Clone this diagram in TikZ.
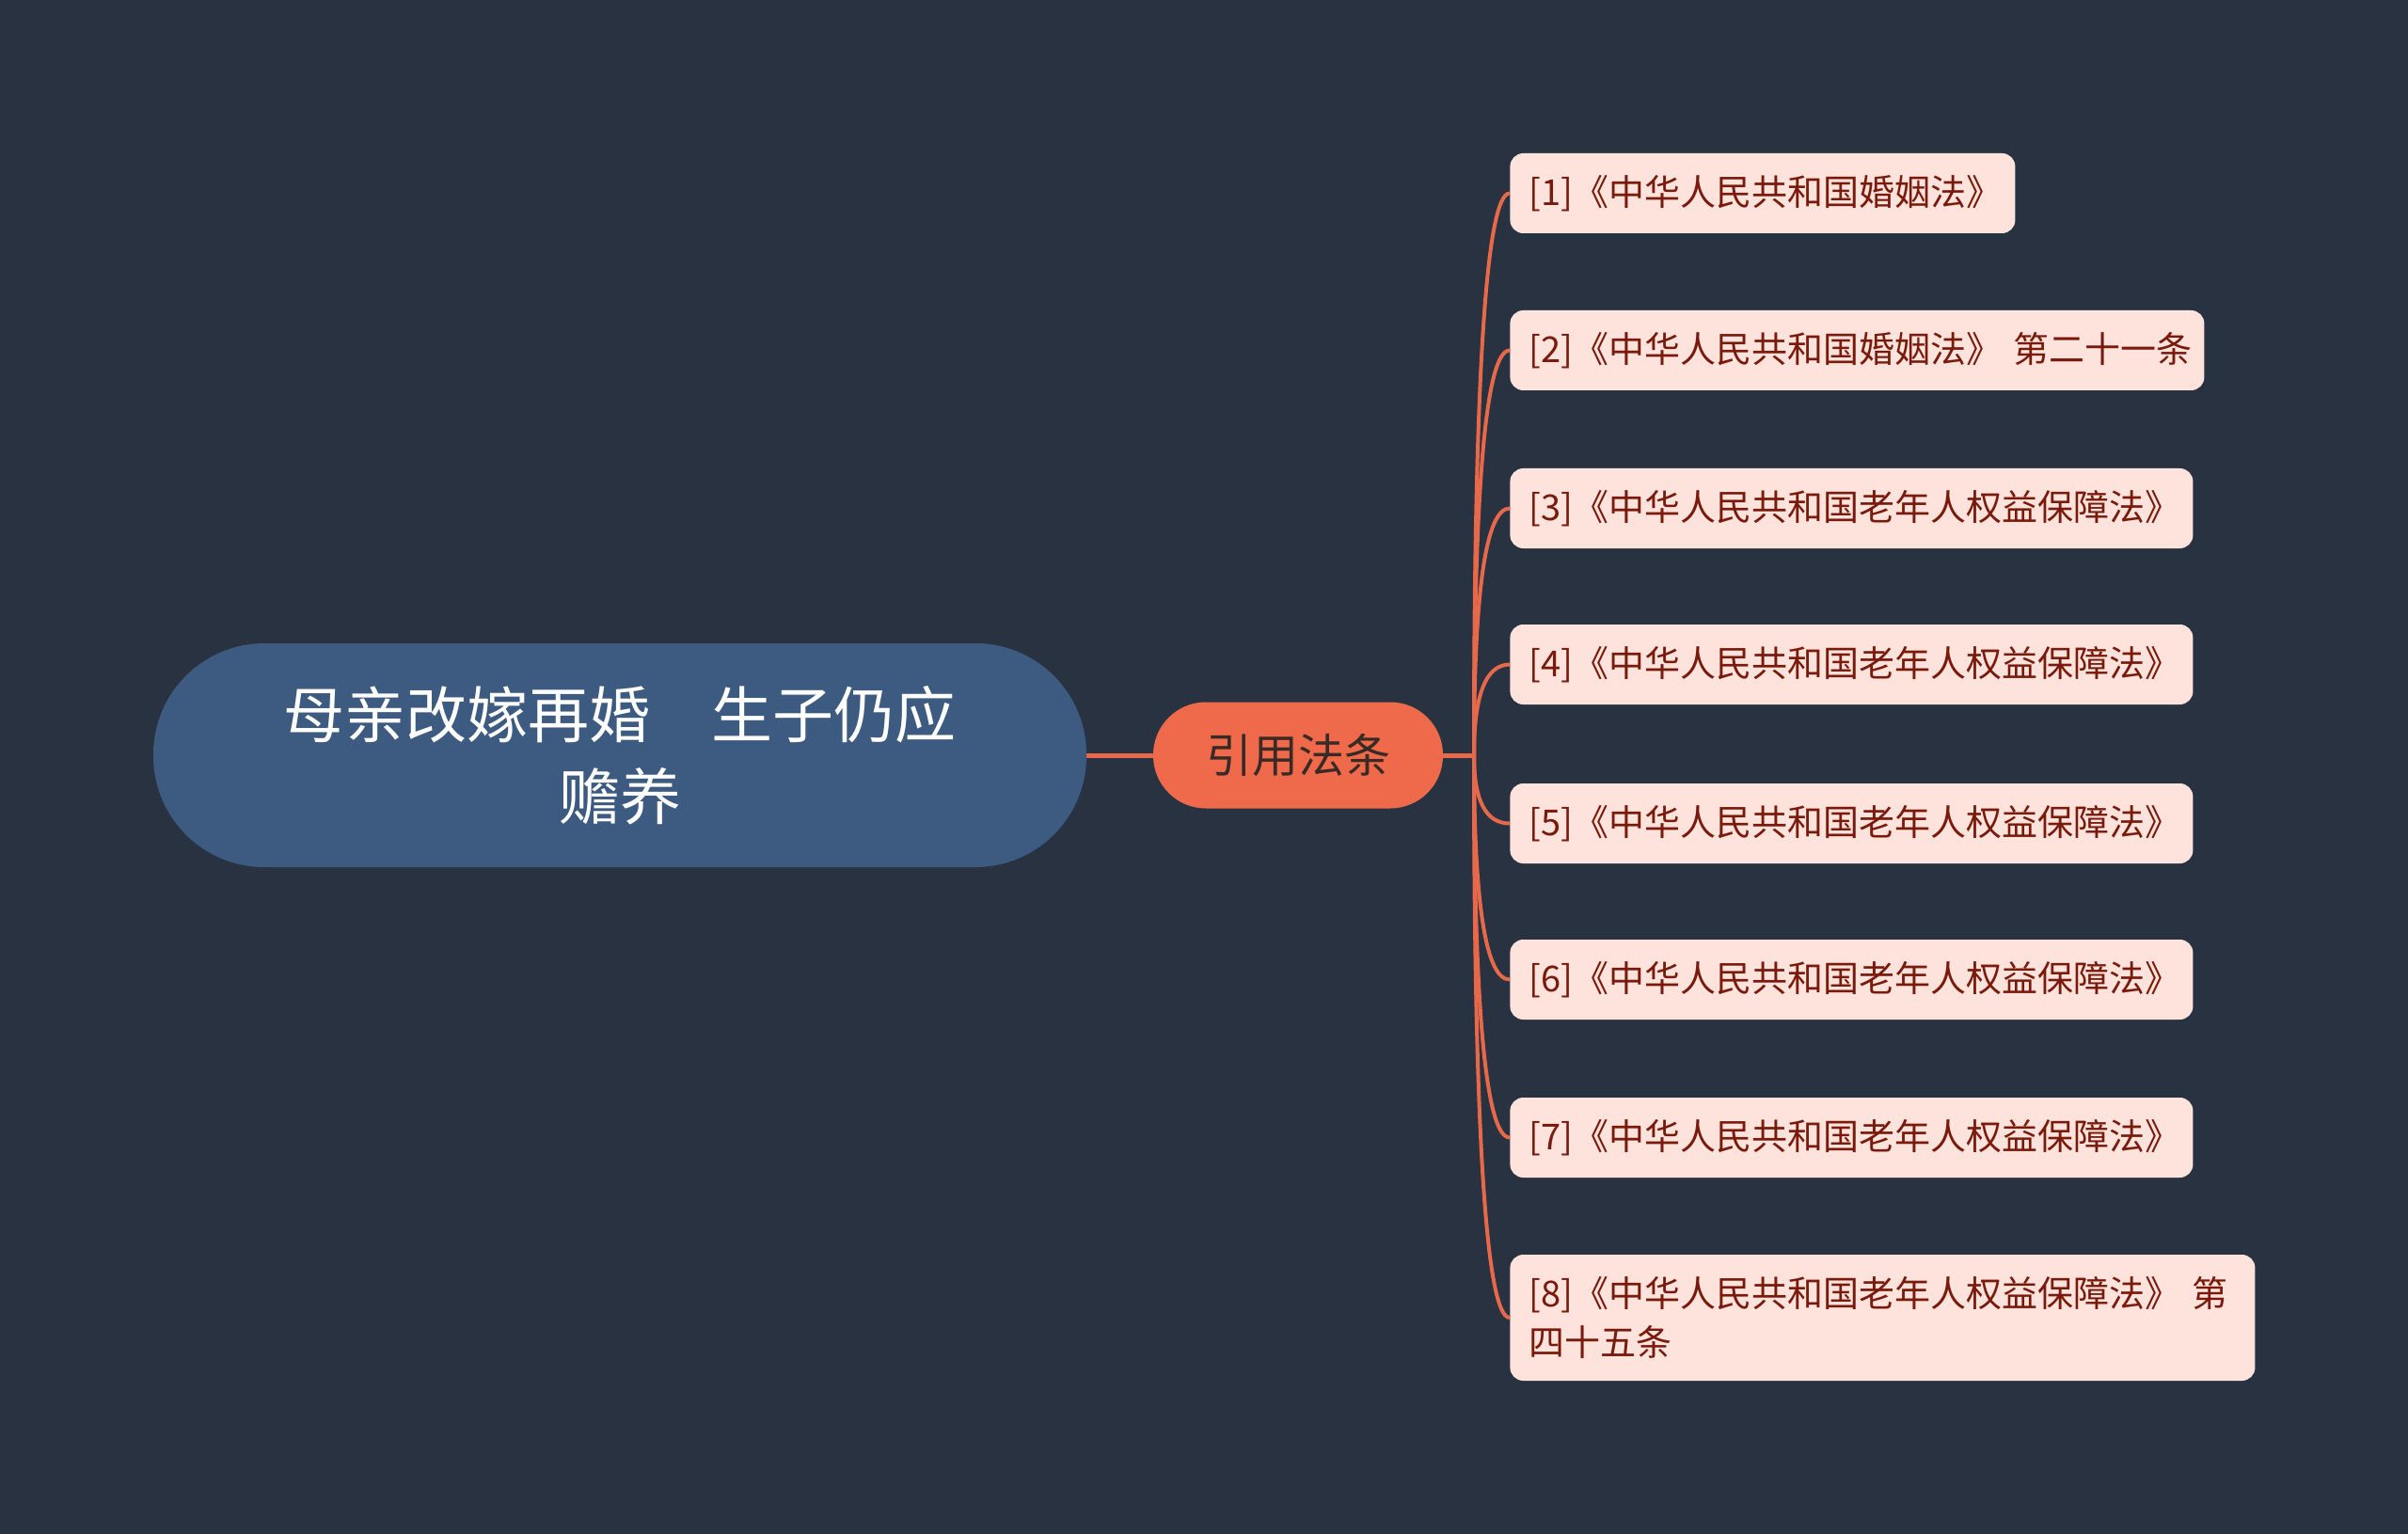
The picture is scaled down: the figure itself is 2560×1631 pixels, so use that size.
\documentclass[tikz,border=0pt]{standalone}
\usepackage{fontspec}
\newfontfamily\cjk{Noto Sans CJK SC}
\usetikzlibrary{calc}
\definecolor{bg}{HTML}{283241}
\definecolor{rootc}{HTML}{3D5A80}
\definecolor{brc}{HTML}{EE6A4B}
\definecolor{brtext}{HTML}{3A2A26}
\definecolor{leaff}{HTML}{FDE3DC}
\definecolor{leaft}{HTML}{7A1A0C}
\definecolor{linec}{HTML}{E8694A}
\begin{document}
\begin{tikzpicture}[x=0.5pt,y=-0.5pt,
  rootbox/.style={fill=rootc, rounded corners=59pt, minimum width=496pt, minimum height=119pt,
    text=white, align=center, font=\cjk\fontsize{32.5}{43.5}\selectfont, inner sep=0pt},
  branchbox/.style={fill=brc, rounded corners=28pt, minimum width=154pt, minimum height=56.5pt,
    text=brtext, font=\cjk\fontsize{24.5}{30}\selectfont, inner sep=0pt},
  leafbox/.style={fill=leaff, rounded corners=7pt, anchor=west, text width=#1, inner xsep=10pt,
    inner ysep=0pt, minimum height=42.5pt, align=left, text=leaft,
    font=\cjk\fontsize{19}{26}\selectfont},
  link/.style={draw=linec, line width=2.5pt},
  curvelink/.style={draw=linec, line width=2pt}]
\useasboundingbox (0,0) rectangle (2560,1631);
\fill[bg] (0,0) rectangle (2560,1631);

\node[rootbox] (root) at (659,803) {母亲改嫁再婚　生子仍应\\赡养};
\node[branchbox] (br) at (1380,803) {引用法条};
\coordinate (J) at (1567,803);

\node[leafbox=248.5pt] (l1) at (1605,205.5) {[1]《中华人民共和国婚姻法》};
\node[leafbox=349pt] (l2) at (1605,372.5) {\mbox{[2]《中华人民共和国婚姻法》 第二十一条}};
\node[leafbox=343pt] (l3) at (1605,540.5) {[3]《中华人民共和国老年人权益保障法》};
\node[leafbox=343pt] (l4) at (1605,706.5) {[4]《中华人民共和国老年人权益保障法》};
\node[leafbox=343pt] (l5) at (1605,875.5) {[5]《中华人民共和国老年人权益保障法》};
\node[leafbox=343pt] (l6) at (1605,1041.5) {[6]《中华人民共和国老年人权益保障法》};
\node[leafbox=343pt] (l7) at (1605,1209.5) {[7]《中华人民共和国老年人权益保障法》};
\node[leafbox=376pt, minimum height=67pt] (l8) at (1605,1401) {\mbox{[8]《中华人民共和国老年人权益保障法》 第}\\四十五条};

\draw[link] (root.east) -- (br.west);
\draw[link] (br.east) -- (J);
\foreach \n in {l1,l2,l3,l4,l5,l6,l7,l8}{
  \draw[curvelink] (J) .. controls ($(J)!0.667!(J |- \n.west)$) and ($(J |- \n.west)!0.333!(\n.west)$) .. (\n.west);
}
\end{tikzpicture}
\end{document}
